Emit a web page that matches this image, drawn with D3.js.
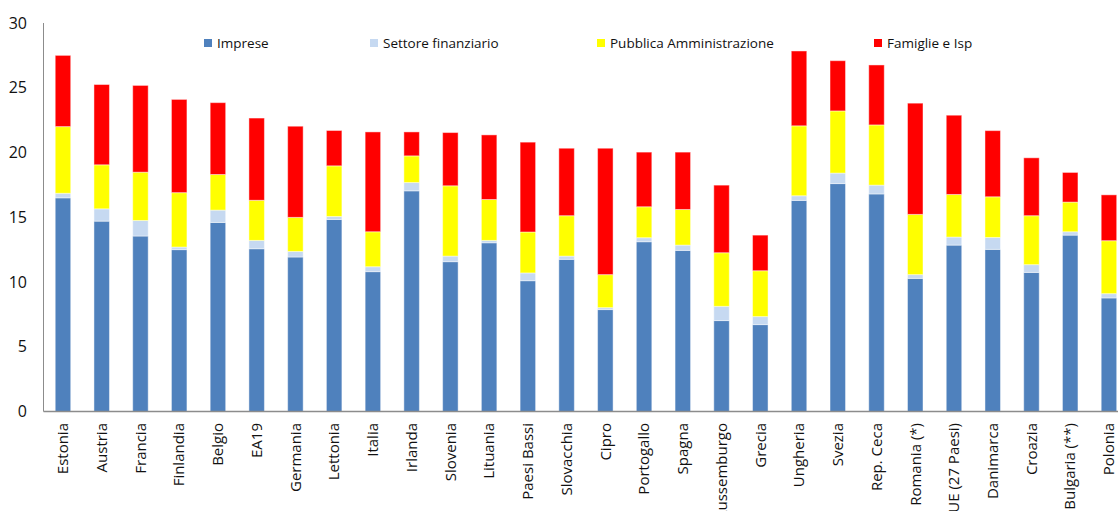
<!DOCTYPE html>
<html>
<head>
<meta charset="utf-8">
<script src="https://cdn.jsdelivr.net/npm/d3@7"></script>
<style>
  body { margin: 0; background: #fff; }
  text { font-family: "Open Sans", "Noto Sans", sans-serif; fill: #111; }
</style>
</head>
<body>
<svg id="chart"></svg>
<script>
var width = 1118, height = 511;
var margin = {top: 22, left: 43.6, bottom: 100};

var paesi = ["Estonia","Austria","Francia","Finlandia","Belgio","EA19","Germania","Lettonia","Italia","Irlanda",
  "Slovenia","Lituania","Paesi Bassi","Slovacchia","Cipro","Portogallo","Spagna","Lussemburgo","Grecia",
  "Ungheria","Svezia","Rep. Ceca","Romania (*)","UE (27 Paesi)","Danimarca","Croazia","Bulgaria (**)","Polonia"];

var imprese     = [16.5,14.7,13.55,12.5,14.6,12.57,11.93,14.83,10.8,17.04,11.57,13.03,10.1,11.75,7.87,13.11,12.44,7.02,6.71,16.3,17.6,16.8,10.28,12.85,12.52,10.74,13.62,8.77];
var finanziario = [0.35,0.95,1.2,0.2,0.95,0.64,0.43,0.23,0.38,0.64,0.43,0.18,0.6,0.25,0.15,0.31,0.41,1.1,0.62,0.36,0.81,0.68,0.29,0.62,0.92,0.6,0.26,0.33];
var pubblica    = [5.15,3.4,3.73,4.2,2.75,3.1,2.63,3.91,2.7,2.06,5.43,3.16,3.16,3.12,2.55,2.39,2.75,4.14,3.54,5.4,4.8,4.65,4.65,3.29,3.14,3.78,2.29,4.09];
var famiglie    = [5.5,6.2,6.7,7.2,5.55,6.35,7.04,2.73,7.71,1.85,4.11,4.99,6.94,5.21,9.76,4.22,4.43,5.22,2.75,5.78,3.88,4.63,8.59,6.12,5.11,4.47,2.29,3.54];

var serie = ["Imprese","Settore finanziario","Pubblica Amministrazione","Famiglie e Isp"];
var colori = ["#4F81BD","#C6D9F1","#FFFF00","#FF0000"];
var yTicks = [0,5,10,15,20,25,30];

var svg = d3.select("#chart").attr("width", width).attr("height", height);

var x = d3.scaleBand().domain(paesi)
  .range([margin.left, margin.left + 38.74*paesi.length])
  .paddingInner(0.6).paddingOuter(0.3);
var y = d3.scaleLinear().domain([0,30]).range([411.5, margin.top + 1]);

var righe = paesi.map(function(p, i){
  return {paese: p, "Imprese": imprese[i], "Settore finanziario": finanziario[i],
          "Pubblica Amministrazione": pubblica[i], "Famiglie e Isp": famiglie[i]};
});
var stack = d3.stack().keys(serie)(righe);

svg.append("g").selectAll("g")
  .data(stack)
  .enter().append("g")
    .attr("fill", function(d, i){ return colori[i]; })
  .selectAll("rect")
  .data(function(d){ return d; })
  .enter().append("rect")
    .attr("x", function(d){ return x(d.data.paese); })
    .attr("y", function(d){ return y(d[1]); })
    .attr("width", x.bandwidth())
    .attr("height", function(d){ return y(d[0]) - y(d[1]); })
    .attr("stroke", "rgba(255,255,255,0.45)")
    .attr("stroke-width", 1);

// assi
svg.append("line")
  .attr("x1", 43.5).attr("x2", 43.5)
  .attr("y1", y(30)).attr("y2", y(0))
  .attr("stroke", "#8c8c8c").attr("stroke-width", 1);
svg.append("line")
  .attr("x1", 43.5).attr("x2", width)
  .attr("y1", y(0)).attr("y2", y(0))
  .attr("stroke", "#8c8c8c").attr("stroke-width", 1.5);

svg.append("g").selectAll("text")
  .data(yTicks)
  .enter().append("text")
    .attr("x", 27)
    .attr("y", function(d){ return y(d); })
    .attr("dy", "0.35em")
    .attr("text-anchor", "end")
    .style("font-size", "16px")
    .text(function(d){ return d; });

svg.append("g").selectAll("text")
  .data(paesi)
  .enter().append("text")
    .attr("transform", function(d){ return "translate(" + (x(d) + x.bandwidth()/2) + ",423) rotate(-90)"; })
    .attr("dy", "0.35em")
    .attr("text-anchor", "end")
    .style("font-size", "15px")
    .text(function(d){ return d; });

// legenda
var legX = [204, 370, 597, 874];
var leg = svg.append("g").selectAll("g")
  .data(serie)
  .enter().append("g")
    .attr("transform", function(d, i){ return "translate(" + legX[i] + ",39)"; });
leg.append("rect")
  .attr("width", 8).attr("height", 8)
  .attr("fill", function(d, i){ return colori[i]; });
leg.append("text")
  .attr("x", 13).attr("y", 4)
  .attr("dy", "0.35em")
  .style("font-size", "13.5px")
  .text(function(d){ return d; });
</script>
</body>
</html>
